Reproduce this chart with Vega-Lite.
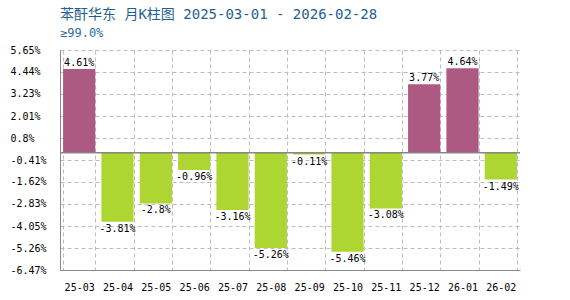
{
  "$schema": "https://vega.github.io/schema/vega-lite/v6.json",
  "width": 460,
  "height": 220,
  "autosize": "none",
  "padding": {"left": 60, "top": 50, "right": 50, "bottom": 30},
  "background": "white",
  "title": {
    "text": "苯酐华东 月K柱图 2025-03-01 - 2026-02-28",
    "subtitle": "≥99.0%",
    "anchor": "start",
    "frame": "group",
    "font": "DejaVu Sans Mono, Noto Sans CJK SC",
    "fontSize": 14,
    "fontWeight": "normal",
    "color": "#1f5f8f",
    "subtitleFont": "DejaVu Sans Mono, Noto Sans CJK SC",
    "subtitleFontSize": 12,
    "subtitleColor": "#2a6ea0",
    "subtitlePadding": 6,
    "offset": 6
  },
  "config": {
    "view": {"stroke": null},
    "axis": {
      "labelFont": "DejaVu Sans Mono",
      "labelFontSize": 10,
      "labelColor": "#000000",
      "domainColor": "#888888",
      "gridColor": "#bdbdbd",
      "gridDash": [4, 3],
      "ticks": false,
      "tickSize": 0,
      "title": null
    }
  },
  "data": {
    "values": [
      {"month": "25-03", "value": 4.61, "label": "4.61%"},
      {"month": "25-04", "value": -3.81, "label": "-3.81%"},
      {"month": "25-05", "value": -2.8, "label": "-2.8%"},
      {"month": "25-06", "value": -0.96, "label": "-0.96%"},
      {"month": "25-07", "value": -3.16, "label": "-3.16%"},
      {"month": "25-08", "value": -5.26, "label": "-5.26%"},
      {"month": "25-09", "value": -0.11, "label": "-0.11%"},
      {"month": "25-10", "value": -5.46, "label": "-5.46%"},
      {"month": "25-11", "value": -3.08, "label": "-3.08%"},
      {"month": "25-12", "value": 3.77, "label": "3.77%"},
      {"month": "26-01", "value": 4.64, "label": "4.64%"},
      {"month": "26-02", "value": -1.49, "label": "-1.49%"}
    ]
  },
  "encoding": {
    "x": {
      "field": "month",
      "type": "ordinal",
      "sort": null,
      "scale": {"paddingInner": 0.16, "paddingOuter": 0.08},
      "axis": {
        "labelAngle": 0,
        "grid": true,
        "tickBand": "extent",
        "labelPadding": 12
      }
    },
    "y": {
      "field": "value",
      "type": "quantitative",
      "scale": {"domain": [-6.47, 5.65], "nice": false, "zero": false},
      "axis": {
        "values": [5.65, 4.44, 3.23, 2.01, 0.8, -0.41, -1.62, -2.83, -4.05, -5.26, -6.47],
        "labelExpr": "datum.value + '%'",
        "labelAlign": "left",
        "labelPadding": 50,
        "grid": true
      }
    }
  },
  "layer": [
    {
      "mark": {"type": "bar"},
      "encoding": {
        "y": {"datum": 0},
        "y2": {"field": "value"},
        "color": {
          "condition": {"test": "datum.value >= 0", "value": "#ad5a82"},
          "value": "#add632"
        }
      }
    },
    {
      "mark": {"type": "rule", "color": "#888888", "strokeWidth": 1},
      "encoding": {"y": {"datum": 0}, "x": {"value": 0}, "x2": {"value": 460}}
    },
    {
      "transform": [{"filter": "datum.value >= 0"}],
      "mark": {"type": "text", "baseline": "bottom", "dy": -1, "font": "DejaVu Sans Mono", "fontSize": 10, "color": "#000000"},
      "encoding": {"text": {"field": "label"}}
    },
    {
      "transform": [{"filter": "datum.value < 0"}],
      "mark": {"type": "text", "baseline": "top", "dy": 2, "font": "DejaVu Sans Mono", "fontSize": 10, "color": "#000000"},
      "encoding": {"text": {"field": "label"}}
    }
  ]
}
